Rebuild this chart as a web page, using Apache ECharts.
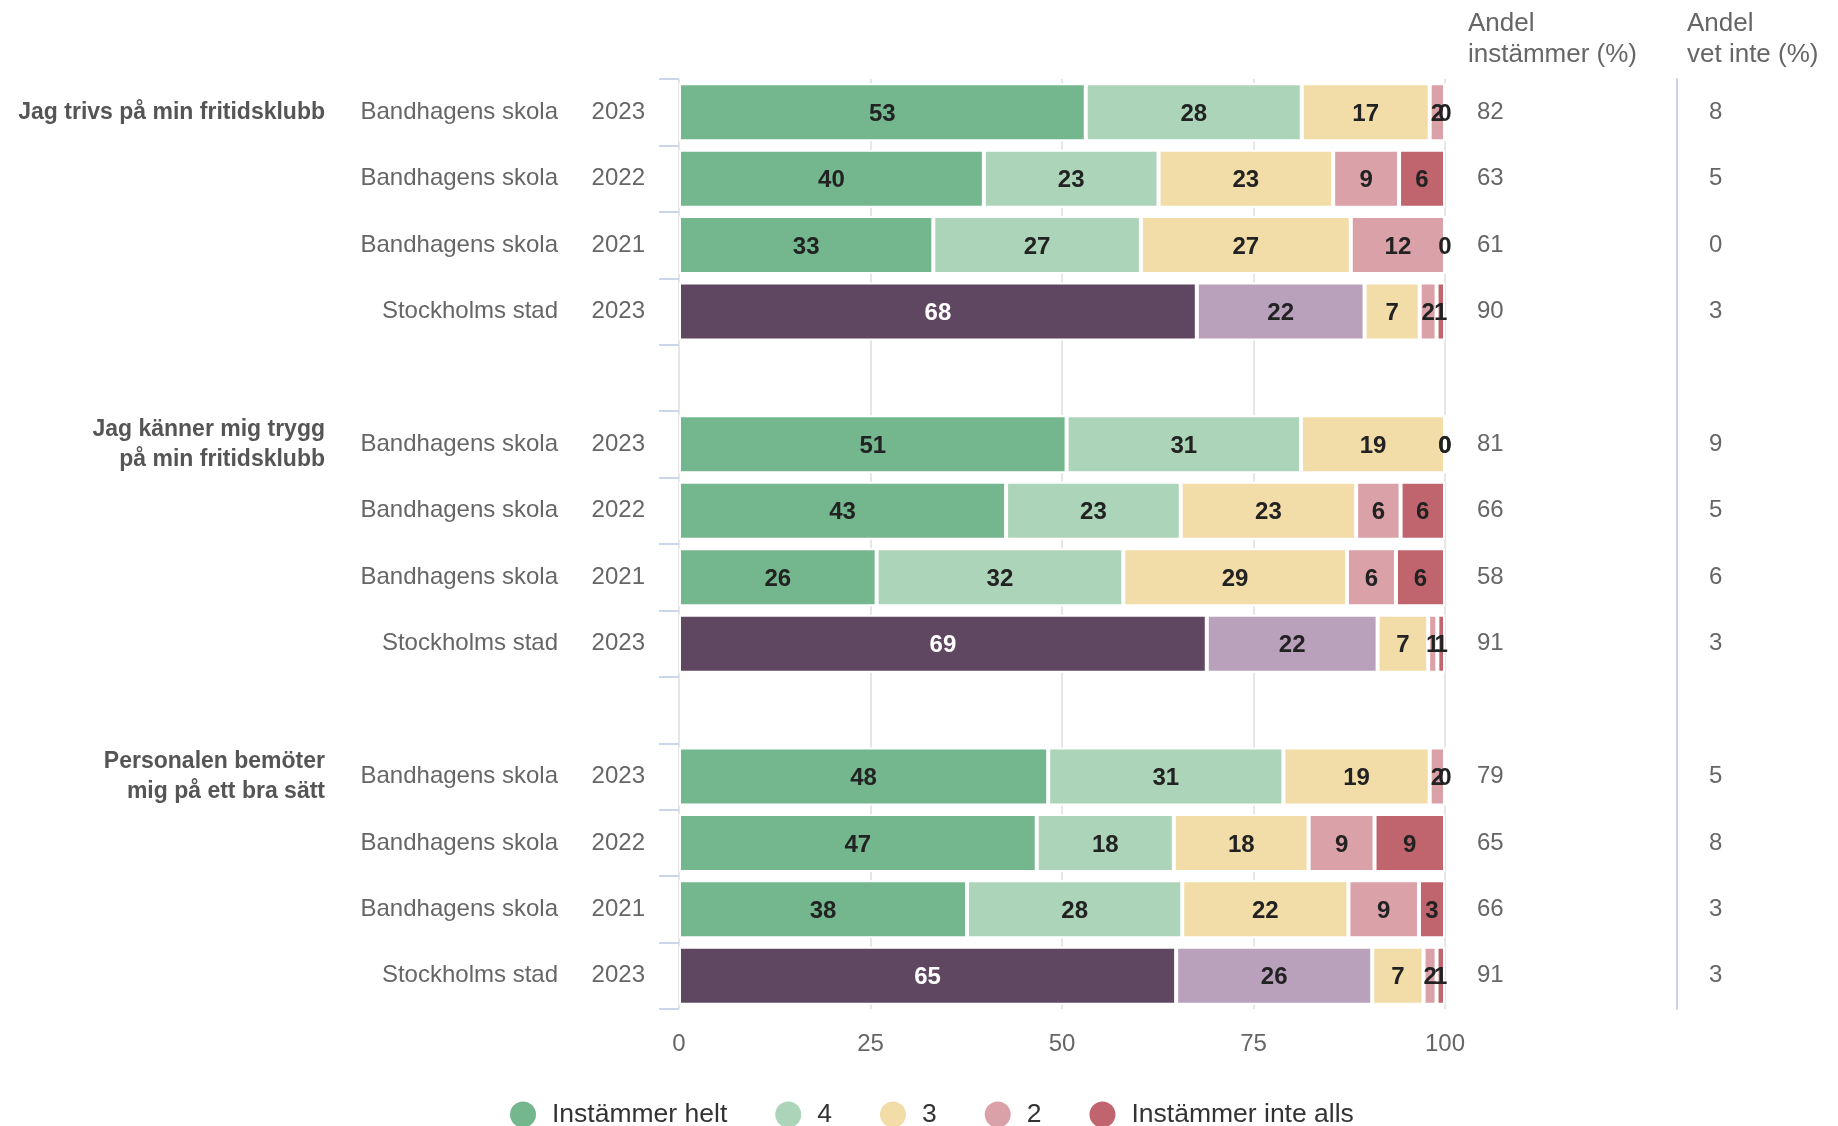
<!DOCTYPE html>
<html>
<head>
<meta charset="utf-8">
<script src="https://cdn.jsdelivr.net/npm/echarts@6/dist/echarts.min.js"></script>
<style>
  html, body { margin: 0; padding: 0; background: #fff; }
  #chart { width: 1838px; height: 1126px; }
</style>
</head>
<body>
<div id="chart"></div>
<script>
var myChart = echarts.init(document.getElementById('chart'));

// frågor, enheter och år
const questions = ['Jag trivs på min fritidsklubb', 'Jag känner mig trygg\npå min fritidsklubb', 'Personalen bemöter\nmig på ett bra sätt']
const units = ['Bandhagens skola', 'Bandhagens skola', 'Bandhagens skola', 'Stockholms stad']
const years = ['2023', '2022', '2021', '2023']
const levels = ['Instämmer helt', '4', '3', '2', 'Instämmer inte alls']

// andelar (%) per svarsalternativ, en rad per fråga/enhet/år
const helt = [53.1, 39.8, 33.2, 67.6, 50.6, 42.7, 25.8, 68.9, 48.2, 46.7, 37.6, 64.9]
const fyra = [28.2, 22.8, 27.1, 21.9, 30.6, 22.8, 32.2, 22.3, 30.7, 17.9, 28.1, 25.6]
const tre = [16.7, 22.8, 27.4, 7.2, 18.8, 22.9, 29.2, 6.6, 19.1, 17.6, 21.7, 6.7]
const tva = [2.0, 8.6, 12.3, 2.2, 0, 5.8, 6.4, 1.2, 2.0, 8.6, 9.2, 1.7]
const inteAlls = [0, 6.0, 0, 1.1, 0, 5.8, 6.4, 1.0, 0, 9.2, 3.4, 1.1]

const andelInstammer = [82, 63, 61, 90, 81, 66, 58, 91, 79, 65, 66, 91]
const andelVetInte = [8, 5, 0, 3, 9, 5, 6, 3, 5, 8, 3, 3]

const xTicks = [0, 25, 50, 75, 100]

const colors = ['#74b78e', '#acd4b9', '#f2dca8', '#dba1a8', '#c0656e']
const cityColors = ['#5f4762', '#b9a0bb', null, null, null]

// bygg kategorier med tomrad mellan frågorna
let cats = []
let rowIdx = []
questions.forEach((q, qi) => {
  if (qi > 0) {
    cats.push('gap' + qi)
    rowIdx.push(-1)
  }
  units.forEach((u, ui) => {
    cats.push(qi + '|' + u + '|' + years[ui])
    rowIdx.push(qi * 4 + ui)
  })
})

function seriesData(arr, li) {
  return rowIdx.map(r => {
    if (r < 0) return '-'
    let item = { value: arr[r] }
    if (units[r % 4] === 'Stockholms stad' && cityColors[li]) {
      item.itemStyle = { color: cityColors[li] }
      if (li === 0) item.label = { color: '#fff' }
    }
    return item
  })
}

const fontFamily = 'Liberation Sans, Arial, sans-serif'

function catAxis(extra) {
  return Object.assign({
    type: 'category',
    data: cats,
    inverse: true,
    axisLine: { show: false },
    axisTick: { show: false },
    splitLine: { show: false }
  }, extra)
}

let series = [helt, fyra, tre, tva, inteAlls].map((arr, li) => ({
  name: levels[li],
  type: 'bar',
  stack: 'total',
  barWidth: 58,
  data: seriesData(arr, li),
  itemStyle: { color: colors[li], borderColor: '#fff', borderWidth: 2 },
  label: {
    show: true,
    position: 'inside',
    fontSize: 24,
    fontWeight: 'bold',
    color: '#222',
    fontFamily: fontFamily,
    offset: [0, 2],
    formatter: p => Math.round(p.value)
  },
  emphasis: { disabled: true }
}))

let options = {
  animation: false,
  textStyle: { fontFamily: fontFamily },
  grid: { left: 679, right: 393, top: 79, bottom: 117, containLabel: false },
  legend: {
    left: 505,
    top: 1096,
    icon: 'circle',
    itemWidth: 26,
    itemHeight: 26,
    itemGap: 48,
    data: levels,
    itemStyle: { borderWidth: 0 },
    textStyle: { fontSize: 26.5, color: '#333', padding: [0, 0, 0, 11] }
  },
  xAxis: {
    type: 'value',
    min: 0,
    max: 100,
    interval: 25,
    axisLine: { show: false },
    axisTick: { show: false },
    axisLabel: { fontSize: 24, color: '#666', margin: 23, formatter: v => xTicks.includes(v) ? String(v) : '' },
    splitLine: { show: true, lineStyle: { color: '#e6e6e6', width: 2 } }
  },
  yAxis: [
    catAxis({
      position: 'left',
      axisTick: { show: true, length: 20, lineStyle: { color: '#ccd6eb', width: 2 } },
      axisLabel: { interval: 0, fontSize: 24, color: '#666', margin: 34, formatter: (v, i) => rowIdx[i] < 0 ? '' : years[rowIdx[i] % 4] }
    }),
    catAxis({
      position: 'left',
      axisLabel: { interval: 0, fontSize: 24, color: '#666', margin: 121, formatter: (v, i) => rowIdx[i] < 0 ? '' : units[rowIdx[i] % 4] }
    }),
    catAxis({
      position: 'left',
      axisLabel: {
        interval: 0, fontSize: 23, fontWeight: 'bold', color: '#555', margin: 354, lineHeight: 30, align: 'right',
        formatter: (v, i) => (rowIdx[i] >= 0 && rowIdx[i] % 4 === 0) ? questions[rowIdx[i] / 4] : ''
      }
    }),
    catAxis({
      position: 'right',
      axisLabel: { interval: 0, fontSize: 24, color: '#666', margin: 32, formatter: (v, i) => rowIdx[i] < 0 ? '' : String(andelInstammer[rowIdx[i]]) }
    }),
    catAxis({
      position: 'right',
      offset: 232,
      axisLine: { show: true, lineStyle: { color: '#c6d4ea', width: 2 } },
      axisLabel: { interval: 0, fontSize: 24, color: '#666', margin: 32, formatter: (v, i) => rowIdx[i] < 0 ? '' : String(andelVetInte[rowIdx[i]]) }
    })
  ],
  graphic: [
    { type: 'text', left: 1468, top: 8, style: { text: 'Andel\ninstämmer (%)', fontSize: 26, lineHeight: 31, fill: '#666', fontFamily: fontFamily } },
    { type: 'text', left: 1687, top: 8, style: { text: 'Andel\nvet inte (%)', fontSize: 26, lineHeight: 31, fill: '#666', fontFamily: fontFamily } }
  ],
  series: series
}

myChart.setOption(options);
</script>
</body>
</html>
